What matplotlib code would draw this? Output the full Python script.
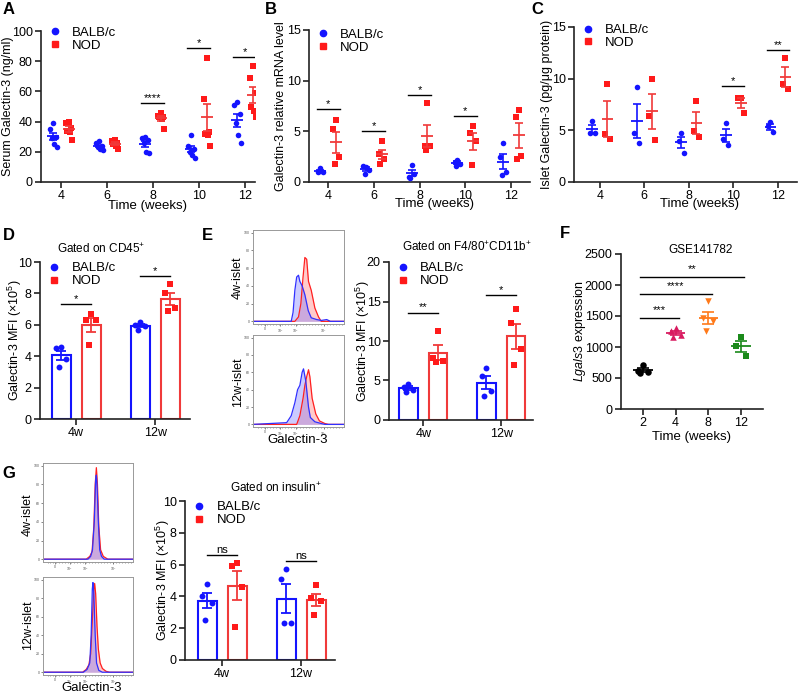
"""
Galectin-3 in BALB/c vs NOD mice: serum, mRNA, islet protein, flow MFI and GEO expression.
"""

import numpy as np
import matplotlib
matplotlib.use('Agg')
import matplotlib.pyplot as plt
from matplotlib.lines import Line2D

plt.rcParams['font.family'] = ['Liberation Sans', 'DejaVu Sans']
plt.rcParams['mathtext.fontset'] = 'custom'
plt.rcParams['mathtext.rm'] = 'Liberation Sans'
plt.rcParams['mathtext.it'] = 'Liberation Sans:italic'

W, H = 800, 694

# ---------------- data ----------------
weeks = ['4', '6', '8', '10', '12']

# A: serum galectin-3 (ng/ml)
serum_balb = [[39, 35, 30, 29, 25, 23], [27, 26, 24, 23, 22, 21], [30, 29, 28, 26, 20, 19],
              [31, 24, 22, 20, 18, 16], [53, 51, 45, 39, 31, 26]]
serum_nod = [[40, 39, 36, 34, 33, 28], [28, 27, 26, 25, 24, 22], [46, 44, 43, 43, 42, 35],
             [82, 55, 33, 32, 31, 24], [77, 69, 59, 50, 47, 43]]
serum_sig = [(2, 52, '****'), (3, 89, '*'), (4, 83, '*')]

# B: galectin-3 relative mRNA level
mrna_balb = [[1.4, 1.0, 1.0, 1.1], [1.5, 1.6, 1.2, 0.8], [1.7, 0.5, 0.8, 0.4],
             [2.2, 2.0, 1.8, 1.6], [3.8, 2.5, 1.0, 0.7]]
mrna_nod = [[6.1, 5.2, 2.5, 1.8], [4.0, 2.8, 2.3, 1.8], [7.8, 3.6, 3.6, 3.2],
            [5.5, 4.8, 4.0, 1.7], [7.1, 6.4, 2.6, 2.3]]
mrna_sig = [(0, 7.2, '*'), (1, 5.0, '*'), (2, 8.6, '*'), (3, 6.5, '*')]

# C: islet galectin-3 (pg/ug protein)
islet_balb = [[5.9, 4.7, 4.7], [9.2, 4.7, 3.8], [4.7, 4.0, 2.8], [5.7, 4.2, 3.6], [5.8, 5.4, 4.8]]
islet_nod = [[9.5, 4.6, 4.2], [10.0, 6.4, 4.1], [7.8, 4.9, 4.4], [8.1, 8.1, 6.7], [12.0, 9.5, 9.0]]
islet_sig = [(3, 9.3, '*'), (4, 12.8, '**')]

groups_w = ['4w', '12w']

# D: CD45+ MFI (x10^5)
cd45_balb = [[4.6, 4.5, 3.8, 3.3], [6.2, 6.0, 5.9, 5.7]]
cd45_nod = [[6.7, 6.3, 6.3, 4.7], [8.6, 8.0, 7.1, 6.9]]
cd45_sig = [(0, 7.3, '*'), (1, 9.1, '*')]

# E: F4/80+CD11b+ MFI (x10^5)
mac_balb = [[4.6, 4.2, 3.8, 3.5], [6.6, 5.6, 3.7, 3.0]]
mac_nod = [[11.3, 7.9, 7.5, 7.4], [14.1, 12.3, 9.0, 7.0]]
mac_sig = [(0, 13.6, '**'), (1, 15.8, '*')]

# G: insulin+ MFI (x10^5)
ins_balb = [[4.8, 4.0, 3.6, 2.5], [5.7, 5.1, 2.3, 2.3]]
ins_nod = [[6.1, 5.9, 4.6, 2.1], [4.7, 3.9, 3.7, 2.8]]
ins_sig = [(0, 6.6, 'ns'), (1, 6.2, 'ns')]

# F: GSE141782 Lgals3 expression
geo_weeks = ['2', '4', '8', '12']
geo_values = [[715, 615, 600, 585], [1300, 1260, 1200, 1160],
              [1740, 1470, 1420, 1260], [1160, 1010, 860]]
geo_sig = [(1, 1470, '***'), (2, 1860, '****'), (3, 2130, '**')]

# flow histograms (x in % of axis width, y = % of max)
hist_e4_blue_x = [0, 42, 44, 46, 48, 50, 51.5, 54, 57, 60.7, 64, 70, 75, 81, 85, 100]
hist_e4_blue_y = [0, 0, 10, 35, 50, 52, 45, 40, 30, 12, 4, 2, 1, 2, 0, 0]
hist_e4_red_x = [0, 46, 50, 52.6, 55, 57, 59, 61, 64, 68, 72, 75, 100]
hist_e4_red_y = [0, 0, 5, 20, 50, 72, 70, 45, 35, 15, 5, 0, 0]
hist_e12_blue_x = [0, 37, 42, 46, 49, 51.5, 54, 55.5, 58, 61, 63, 68, 75, 79, 100]
hist_e12_blue_y = [0, 2, 10, 25, 40, 45, 60, 64, 50, 20, 8, 3, 1, 0, 0]
hist_e12_red_x = [0, 48, 51.5, 55, 57, 59, 61, 62.5, 65, 69, 73, 79, 83, 100]
hist_e12_red_y = [0, 0, 10, 30, 45, 55, 63, 55, 30, 12, 4, 1, 0, 0]
hist_g4_blue_x = [0, 50, 53, 55, 57, 58.5, 59.3, 60, 61.5, 63, 65, 68, 100]
hist_g4_blue_y = [0, 0, 3, 10, 40, 85, 90, 80, 40, 10, 3, 0, 0]
hist_g4_red_x = [0, 48, 52, 54.5, 56.5, 58, 59.3, 60.5, 62, 64, 67, 72, 100]
hist_g4_red_y = [0, 0, 3, 8, 35, 80, 98, 80, 35, 10, 3, 0, 0]
hist_g12_blue_x = [0, 45, 49, 52, 53.5, 54.8, 55.5, 56.5, 58, 59.5, 62, 66, 100]
hist_g12_blue_y = [0, 0, 3, 10, 40, 90, 97, 85, 40, 10, 2, 0, 0]
hist_g12_red_x = [0, 44, 48, 51, 53, 55, 56.5, 57.4, 58.5, 60, 61.5, 63.5, 66, 70, 74, 100]
hist_g12_red_y = [0, 0, 3, 8, 20, 60, 90, 96, 85, 50, 25, 10, 4, 1, 0, 0]
hist_ticks = [13, 30, 47, 78]
hist_ticklabels = ['0', '10$^4$', '10$^5$', '10$^7$']

# ---------------- style ----------------
BLUE = '#1414ff'
RED = '#ff1a1a'
RED_LINE = '#f03a3a'
FS = 9
# horizontal spread of replicate points, in units of the category width
JITTER = [0.0, -0.06, 0.06, -0.03, 0.03, 0.08]


def px_axes(fig, left, top, right, bottom):
    """Add axes from pixel box (top-left origin)."""
    return fig.add_axes([left / W, 1 - bottom / H, (right - left) / W, (bottom - top) / H])


def px_text(fig, x, y, s, **kw):
    kw.setdefault('ha', 'center')
    kw.setdefault('va', 'center')
    fig.text(x / W, 1 - y / H, s, **kw)


def style_axes(ax):
    for side in ('top', 'right'):
        ax.spines[side].set_visible(False)
    for side in ('left', 'bottom'):
        ax.spines[side].set_linewidth(1.2)
        ax.spines[side].set_color('#222222')
    ax.tick_params(length=4, width=1.2, labelsize=FS, pad=2, color='#222222')


def set_ylabel_px(ax, box, text, x):
    left, top, right, bottom = box
    ax.set_ylabel(text, fontsize=FS, va='center')
    ax.yaxis.set_label_coords((x - left) / (right - left), 0.5)


def jitter(n, scale=1.0):
    return np.array(JITTER[:n]) * scale


def sem(v):
    v = np.asarray(v, dtype=float)
    return v.std(ddof=1) / np.sqrt(len(v))


def add_legend(ax, anchor):
    handles = [Line2D([], [], marker='o', color=BLUE, ls='', markersize=4.5, label='BALB/c'),
               Line2D([], [], marker='s', color=RED, ls='', markersize=4.5, label='NOD')]
    ax.legend(handles=handles, loc='upper left', bbox_to_anchor=anchor, frameon=False,
              fontsize=FS + 0.5, handlelength=0.8, handletextpad=0.9, labelspacing=0.05,
              borderaxespad=0, borderpad=0)


def add_sig(ax, sig, half):
    for i, y, label in sig:
        ax.plot([i - half, i + half], [y, y], color='black', lw=1)
        ax.text(i, y, label, ha='center', va='bottom', fontsize=FS - 1)


def plot_time_scatter(ax, balb, nod, sig):
    for i, (b, n) in enumerate(zip(balb, nod)):
        for vals, off, color, lcol, marker in ((b, -0.17, BLUE, BLUE, 'o'), (n, 0.17, RED, RED_LINE, 's')):
            xc = i + off
            ax.scatter(xc + jitter(len(vals)), vals, s=16, color=color, marker=marker,
                       linewidths=0, zorder=3)
            m = np.mean(vals)
            ax.hlines(m, xc - 0.13, xc + 0.13, color=lcol, lw=1.3, zorder=4)
            ax.errorbar(xc, m, yerr=sem(vals), color=lcol, capsize=3, lw=1.2, capthick=1.2, zorder=4)
    add_sig(ax, sig, 0.25)


def plot_bar_panel(ax, balb, nod, sig):
    for i, (b, n) in enumerate(zip(balb, nod)):
        for vals, off, color, lcol, marker in ((b, -0.19, BLUE, BLUE, 'o'), (n, 0.19, RED, RED_LINE, 's')):
            xc = i + off
            m = np.mean(vals)
            ax.bar(xc, m, width=0.24, facecolor='white', edgecolor=lcol, lw=1.5, zorder=2)
            ax.errorbar(xc, m, yerr=sem(vals), color=lcol, capsize=3.5, lw=1.3, capthick=1.3, zorder=3)
            ax.scatter(xc + jitter(len(vals)), vals, s=18, color=color, marker=marker,
                       linewidths=0, zorder=4)
    add_sig(ax, sig, 0.19)


def plot_hist(ax, blue_x, blue_y, red_x, red_y):
    ax.fill_between(red_x, red_y, color='#ff6b6b', alpha=0.35, lw=0)
    ax.plot(red_x, red_y, color='#ff2020', lw=0.9)
    ax.fill_between(blue_x, blue_y, color='#6b6bff', alpha=0.35, lw=0)
    ax.plot(blue_x, blue_y, color='#3030ff', lw=0.9)
    ax.set_xlim(0, 100)
    ax.set_ylim(-3, 103)
    ax.set_yticks([0, 20, 40, 60, 80, 100])
    ax.set_xticks(hist_ticks)
    ax.set_xticklabels(hist_ticklabels)
    ax.set_xticks(np.arange(5, 100, 3.3), minor=True)
    ax.tick_params(labelsize=2.5, length=1.5, width=0.5, pad=1, colors='#555555')
    ax.tick_params(which='minor', length=1, width=0.4, color='#555555')
    for s in ax.spines.values():
        s.set_linewidth(0.7)
        s.set_color('#999999')


fig = plt.figure(figsize=(W / 100, H / 100), dpi=100)

# ---------------- A ----------------
box = (41, 31, 255, 182)
ax = px_axes(fig, *box)
style_axes(ax)
plot_time_scatter(ax, serum_balb, serum_nod, serum_sig)
ax.set_xlim(-0.43, 4.22)
ax.set_ylim(0, 100)
ax.set_yticks(range(0, 101, 20))
ax.set_xticks(range(len(weeks)))
ax.set_xticklabels(weeks)
set_ylabel_px(ax, box, 'Serum Galectin-3 (ng/ml)', 8)
px_text(fig, 148, 206, 'Time (weeks)', fontsize=FS + 0.5)
add_legend(ax, (0.04, 1.03))

# ---------------- B ----------------
box = (309, 30, 530, 182)
ax = px_axes(fig, *box)
style_axes(ax)
plot_time_scatter(ax, mrna_balb, mrna_nod, mrna_sig)
ax.set_xlim(-0.42, 4.42)
ax.set_ylim(0, 15)
ax.set_yticks([0, 5, 10, 15])
ax.set_xticks(range(len(weeks)))
ax.set_xticklabels(weeks)
set_ylabel_px(ax, box, 'Galectin-3 relative mRNA level', 281)
px_text(fig, 435, 204, 'Time (weeks)', fontsize=FS + 0.5)
add_legend(ax, (0.04, 1.01))

# ---------------- C ----------------
box = (574, 27, 797, 182)
ax = px_axes(fig, *box)
style_axes(ax)
plot_time_scatter(ax, islet_balb, islet_nod, islet_sig)
ax.set_xlim(-0.58, 4.43)
ax.set_ylim(0, 15)
ax.set_yticks([0, 5, 10, 15])
ax.set_xticks(range(len(weeks)))
ax.set_xticklabels(weeks)
set_ylabel_px(ax, box, 'Islet Galectin-3 (pg/\u03bcg protein)', 547)
px_text(fig, 699, 204, 'Time (weeks)', fontsize=FS + 0.5)
add_legend(ax, (0.04, 1.02))

# ---------------- D ----------------
box = (40, 262, 190, 419)
ax = px_axes(fig, *box)
style_axes(ax)
plot_bar_panel(ax, cd45_balb, cd45_nod, cd45_sig)
ax.set_xlim(-0.456, 1.44)
ax.set_ylim(0, 10)
ax.set_yticks(range(0, 11, 2))
ax.set_xticks([0, 1])
ax.set_xticklabels(groups_w)
set_ylabel_px(ax, box, r'Galectin-3 MFI ($\times$10$^5$)', 15)
add_legend(ax, (0.06, 1.0))
px_text(fig, 101, 249, r'Gated on CD45$^{+}$', fontsize=FS - 0.5)

# ---------------- E histograms ----------------
ax = px_axes(fig, 253, 230, 344, 324)
plot_hist(ax, hist_e4_blue_x, hist_e4_blue_y, hist_e4_red_x, hist_e4_red_y)
ax = px_axes(fig, 253, 335, 344, 427)
plot_hist(ax, hist_e12_blue_x, hist_e12_blue_y, hist_e12_red_x, hist_e12_red_y)
px_text(fig, 238, 278, '4w-islet', fontsize=FS, rotation=90)
px_text(fig, 238, 382, '12w-islet', fontsize=FS, rotation=90)
px_text(fig, 298, 440, 'Galectin-3', fontsize=FS + 0.5)

# ---------------- E bars ----------------
box = (389, 262, 533, 420)
ax = px_axes(fig, *box)
style_axes(ax)
plot_bar_panel(ax, mac_balb, mac_nod, mac_sig)
ax.set_xlim(-0.44, 1.41)
ax.set_ylim(0, 20)
ax.set_yticks(range(0, 21, 5))
ax.set_xticks([0, 1])
ax.set_xticklabels(groups_w)
set_ylabel_px(ax, box, r'Galectin-3 MFI ($\times$10$^5$)', 363)
add_legend(ax, (0.06, 1.0))
px_text(fig, 467, 247, r'Gated on F4/80$^{+}$CD11b$^{+}$', fontsize=FS - 0.5)

# ---------------- F ----------------
box = (621, 254, 763, 409)
ax = px_axes(fig, *box)
style_axes(ax)
geo_colors = ['black', '#d81b60', '#ff7a1a', '#1b8a1b']
geo_markers = ['o', '^', 'v', 's']
for i, vals in enumerate(geo_values):
    ax.scatter(i + jitter(len(vals), 2.5), vals, s=22, color=geo_colors[i], marker=geo_markers[i],
               linewidths=0, zorder=3)
    m = np.mean(vals)
    ax.hlines(m, i - 0.3, i + 0.3, color=geo_colors[i], lw=1.3, zorder=4)
    ax.errorbar(i, m, yerr=sem(vals), color=geo_colors[i], capsize=4, lw=1.2, capthick=1.2, zorder=4)
for j, y, label in geo_sig:
    ax.plot([-0.1, j + 0.1], [y, y], color='black', lw=1)
    ax.text(j / 2, y + 40, label, ha='center', va='bottom', fontsize=FS - 1)
ax.set_xlim(-0.67, 3.67)
ax.set_ylim(0, 2500)
ax.set_yticks(range(0, 2501, 500))
ax.set_xticks(range(len(geo_weeks)))
ax.set_xticklabels(geo_weeks)
set_ylabel_px(ax, box, r'$\it{Lgals3}$ expression', 580)
px_text(fig, 692, 437, 'Time (weeks)', fontsize=FS + 0.5)
px_text(fig, 701, 250, 'GSE141782', fontsize=FS - 0.5)

# ---------------- G histograms ----------------
ax = px_axes(fig, 43, 463, 133, 562)
plot_hist(ax, hist_g4_blue_x, hist_g4_blue_y, hist_g4_red_x, hist_g4_red_y)
ax = px_axes(fig, 43, 577, 133, 675)
plot_hist(ax, hist_g12_blue_x, hist_g12_blue_y, hist_g12_red_x, hist_g12_red_y)
px_text(fig, 28, 515, '4w-islet', fontsize=FS, rotation=90)
px_text(fig, 28, 625, '12w-islet', fontsize=FS, rotation=90)
px_text(fig, 92, 688, 'Galectin-3', fontsize=FS + 0.5)

# ---------------- G bars ----------------
box = (185, 501, 335, 660)
ax = px_axes(fig, *box)
style_axes(ax)
plot_bar_panel(ax, ins_balb, ins_nod, ins_sig)
ax.set_xlim(-0.47, 1.43)
ax.set_ylim(0, 10)
ax.set_yticks(range(0, 11, 2))
ax.set_xticks([0, 1])
ax.set_xticklabels(groups_w)
set_ylabel_px(ax, box, r'Galectin-3 MFI ($\times$10$^5$)', 163)
add_legend(ax, (0.06, 1.0))
px_text(fig, 276, 488, r'Gated on insulin$^{+}$', fontsize=FS - 0.5)

# ---------------- panel letters ----------------
for x, y, letter in [(9, 10, 'A'), (271, 10, 'B'), (537, 10, 'C'), (9, 235, 'D'),
                     (207, 235, 'E'), (565, 233, 'F'), (9, 473, 'G')]:
    px_text(fig, x, y, letter, fontsize=12, fontweight='bold')

fig.savefig('out.png', dpi=100)
plt.close(fig)
